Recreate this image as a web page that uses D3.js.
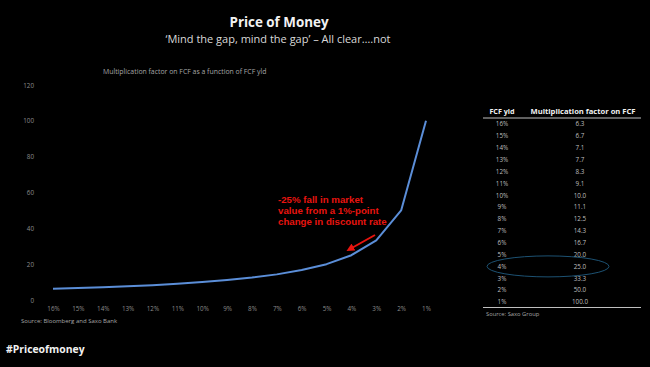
<!DOCTYPE html>
<html>
<head>
<meta charset="utf-8">
<script src="https://cdn.jsdelivr.net/npm/d3@7"></script>
<style>
  html, body { margin: 0; padding: 0; background: #000; }
  svg { display: block; }
</style>
</head>
<body>
<svg id="chart" width="650" height="367"></svg>
<script>
const categories = ["16%","15%","14%","13%","12%","11%","10%","9%","8%","7%","6%","5%","4%","3%","2%","1%"];
const multiples = [6.3, 6.7, 7.1, 7.7, 8.3, 9.1, 10.0, 11.1, 12.5, 14.3, 16.7, 20.0, 25.0, 33.3, 50.0, 100.0];
const yTicks = [0, 20, 40, 60, 80, 100, 120];
const tableLabels = ["16%","15%","14%","13%","12%","11%","10%","9%","8%","7%","6%","5%","4%","3%","2%","1%"];
const tableValues = ["6.3","6.7","7.1","7.7","8.3","9.1","10.0","11.1","12.5","14.3","16.7","20.0","25.0","33.3","50.0","100.0"];
const annotationLines = ["-25% fall in market", "value from a 1%-point", "change in discount rate"];

const svg = d3.select("#chart");
const font = "'Open Sans', sans-serif";

svg.append("rect").attr("width", 650).attr("height", 367).attr("fill", "#000");

// Titles
svg.append("text").attr("x", 279).attr("y", 27).attr("text-anchor", "middle")
  .attr("font-family", font).attr("font-weight", 700).attr("font-size", 13.4)
  .attr("fill", "#f2f2f2").text("Price of Money");
svg.append("text").attr("x", 278).attr("y", 42.5).attr("text-anchor", "middle")
  .attr("font-family", font).attr("font-size", 11)
  .attr("fill", "#d9d9d9").text("\u2018Mind the gap, mind the gap\u2019 \u2013 All clear\u2026.not");
svg.append("text").attr("x", 103).attr("y", 73.5)
  .attr("font-family", font).attr("font-size", 6.9)
  .attr("fill", "#a6a6a6").text("Multiplication factor on FCF as a function of FCF yld");

// Scales
const x = d3.scalePoint().domain(categories).range([53, 426]);
const y = d3.scaleLinear().domain([0, 120]).range([300, 85]);

// Y axis
const yAxis = svg.append("g").attr("transform", "translate(34,0)")
  .call(d3.axisLeft(y).tickValues(yTicks).tickSize(0).tickPadding(0));
yAxis.select(".domain").remove();
yAxis.selectAll("text").attr("font-family", font).attr("font-size", 6.3).attr("fill", "#8c8c8c");

// X axis
const xAxis = svg.append("g").attr("transform", "translate(0,307)")
  .call(d3.axisBottom(x).tickSize(0).tickPadding(0));
xAxis.select(".domain").remove();
xAxis.selectAll("text").attr("font-family", font).attr("font-size", 6.3).attr("fill", "#8c8c8c");

// Line
const line = d3.line().x((d, i) => x(categories[i])).y(d => y(d));
svg.append("path").datum(multiples).attr("d", line)
  .attr("fill", "none").attr("stroke", "#5b8ed8").attr("stroke-width", 2)
  .attr("stroke-linejoin", "round");

// Source
svg.append("text").attr("x", 21).attr("y", 323)
  .attr("font-family", font).attr("font-size", 6).attr("fill", "#a6a6a6")
  .text("Source: Bloomberg and Saxo Bank");

// Hashtag
svg.append("text").attr("x", 6).attr("y", 353)
  .attr("font-family", font).attr("font-weight", 700).attr("font-size", 10.4)
  .attr("fill", "#f2f2f2").text("#Priceofmoney");

// Annotation
annotationLines.forEach((t, i) => {
  svg.append("text").attr("x", 278).attr("y", 203 + i * 11)
    .attr("font-family", "'Liberation Sans', Arial, sans-serif").attr("font-weight", 700)
    .attr("font-size", 9.7).attr("fill", "#e8140f").text(t);
});
svg.append("defs").append("marker").attr("id", "arrow")
  .attr("viewBox", "0 0 10 10").attr("refX", 5).attr("refY", 5)
  .attr("markerWidth", 4).attr("markerHeight", 4).attr("orient", "auto")
  .append("path").attr("d", "M0,0 L10,5 L0,10 z").attr("fill", "#e8140f");
svg.append("line").attr("x1", 375).attr("y1", 235).attr("x2", 350).attr("y2", 249)
  .attr("stroke", "#e8140f").attr("stroke-width", 2).attr("marker-end", "url(#arrow)");

// Table
const tY = d3.scalePoint().domain(tableLabels).range([124, 302]);
const colA = 502, colB = 581;
svg.append("text").attr("x", colA).attr("y", 114).attr("text-anchor", "middle")
  .attr("font-family", font).attr("font-weight", 700).attr("font-size", 7.2)
  .attr("fill", "#f2f2f2").text("FCF yld");
svg.append("text").attr("x", colB + 2).attr("y", 114).attr("text-anchor", "middle")
  .attr("font-family", font).attr("font-weight", 700).attr("font-size", 7.6)
  .attr("fill", "#f2f2f2").text("Multiplication factor on FCF");
svg.append("line").attr("x1", 483).attr("x2", 641).attr("y1", 118).attr("y2", 118)
  .attr("stroke", "#bfbfbf").attr("stroke-width", 1);
tableLabels.forEach((lab, i) => {
  svg.append("text").attr("x", colA).attr("y", tY(lab) + 2.3).attr("text-anchor", "middle")
    .attr("font-family", font).attr("font-size", 6.3).attr("fill", "#bfbfbf").text(lab);
  svg.append("text").attr("x", colB - 1).attr("y", tY(lab) + 2.3).attr("text-anchor", "middle")
    .attr("font-family", font).attr("font-size", 6.3).attr("fill", "#bfbfbf").text(tableValues[i]);
});
svg.append("line").attr("x1", 483).attr("x2", 641).attr("y1", 307.5).attr("y2", 307.5)
  .attr("stroke", "#bfbfbf").attr("stroke-width", 1);
svg.append("text").attr("x", 486).attr("y", 315.5)
  .attr("font-family", font).attr("font-size", 5.8).attr("fill", "#a6a6a6")
  .text("Source: Saxo Group");

// Highlight ellipse
svg.append("ellipse").attr("cx", 548).attr("cy", tY("4%")).attr("rx", 61).attr("ry", 10.5)
  .attr("fill", "none").attr("stroke", "#1d5273").attr("stroke-width", 1);
</script>
</body>
</html>
